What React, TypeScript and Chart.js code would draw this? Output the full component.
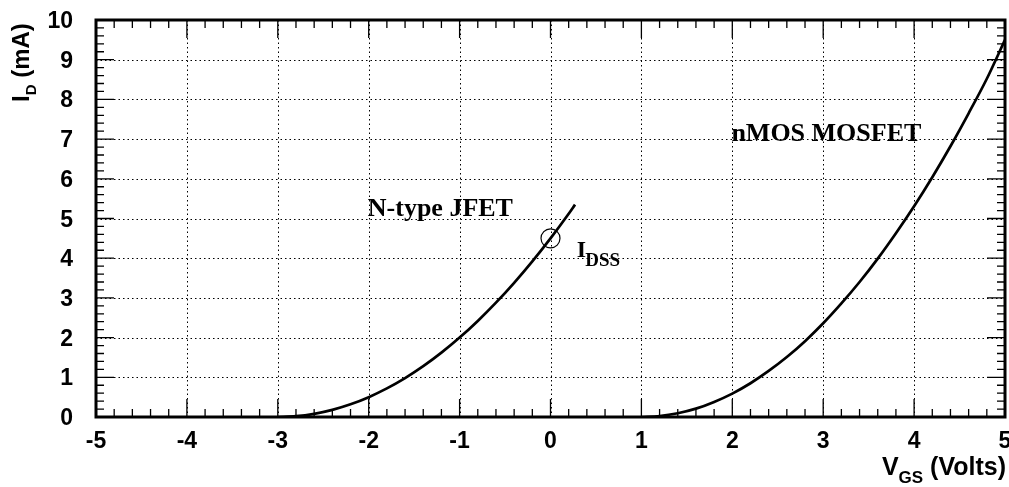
import React, { useEffect, useRef } from "react";
import { Chart, registerables } from "chart.js";

Chart.register(...registerables);

const jfetVgs = [-3, -2.8, -2.6, -2.4, -2.2, -2.0, -1.8, -1.6, -1.4, -1.2, -1.0, -0.8, -0.6, -0.4, -0.2, 0, 0.2, 0.27];
const jfetId = [0, 0.02, 0.08, 0.18, 0.32, 0.5, 0.72, 0.98, 1.28, 1.62, 2.0, 2.42, 2.88, 3.38, 3.92, 4.5, 5.12, 5.35];
const mosVgs = [1.0, 1.2, 1.4, 1.6, 1.8, 2.0, 2.2, 2.4, 2.6, 2.8, 3.0, 3.2, 3.4, 3.6, 3.8, 4.0, 4.2, 4.4, 4.6, 4.8, 5.0];
const mosId = [0, 0.024, 0.094, 0.21, 0.38, 0.59, 0.85, 1.16, 1.51, 1.91, 2.36, 2.86, 3.4, 3.99, 4.63, 5.31, 6.04, 6.82, 7.65, 8.52, 9.5];
const idssPoint = { x: 0, y: 4.5 };

const xTicks = [-5, -4, -3, -2, -1, 0, 1, 2, 3, 4, 5];
const yTicks = [0, 1, 2, 3, 4, 5, 6, 7, 8, 9, 10];

const SANS = "'Liberation Sans', Arial, Helvetica, sans-serif";
const SERIF = "'Liberation Serif', 'Times New Roman', serif";

const framePlugin = {
  id: "framePlugin",
  beforeDatasetsDraw(chart: any) {
    const { ctx, chartArea: a, scales } = chart;
    const xs = scales.x, ys = scales.y;
    ctx.save();
    ctx.strokeStyle = "#000";
    ctx.lineWidth = 1;
    ctx.setLineDash([1.5, 3]);
    for (const v of xTicks.slice(1, -1)) {
      const px = Math.round(xs.getPixelForValue(v)) + 0.5;
      ctx.beginPath();
      ctx.moveTo(px, a.top);
      ctx.lineTo(px, a.bottom);
      ctx.stroke();
    }
    for (const v of yTicks.slice(1, -1)) {
      const py = Math.round(ys.getPixelForValue(v)) + 0.5;
      ctx.beginPath();
      ctx.moveTo(a.left, py);
      ctx.lineTo(a.right, py);
      ctx.stroke();
    }
    ctx.restore();
  },
  afterDraw(chart: any) {
    const { ctx, chartArea: a, scales } = chart;
    const xs = scales.x, ys = scales.y;
    ctx.save();
    ctx.strokeStyle = "#000";
    ctx.setLineDash([]);
    ctx.lineWidth = 1.3;
    for (let i = 0; i <= 50; i++) {
      const v = -5 + i * 0.2;
      const len = i % 5 === 0 ? 18 : 8;
      const px = xs.getPixelForValue(v);
      ctx.beginPath();
      ctx.moveTo(px, a.bottom);
      ctx.lineTo(px, a.bottom - len);
      ctx.moveTo(px, a.top);
      ctx.lineTo(px, a.top + len);
      ctx.stroke();
    }
    for (let i = 0; i <= 50; i++) {
      const v = i * 0.2;
      const len = i % 5 === 0 ? 18 : 8;
      const py = ys.getPixelForValue(v);
      ctx.beginPath();
      ctx.moveTo(a.left, py);
      ctx.lineTo(a.left + len, py);
      ctx.moveTo(a.right, py);
      ctx.lineTo(a.right - len, py);
      ctx.stroke();
    }
    ctx.lineWidth = 3;
    ctx.strokeRect(a.left, a.top, a.right - a.left, a.bottom - a.top);

    ctx.fillStyle = "#000";
    ctx.font = `bold 23px ${SANS}`;
    ctx.textAlign = "center";
    ctx.textBaseline = "alphabetic";
    for (const v of xTicks) {
      ctx.fillText(String(v), xs.getPixelForValue(v), a.bottom + 31);
    }
    ctx.textAlign = "right";
    for (const v of yTicks) {
      ctx.fillText(String(v), a.left - 23, ys.getPixelForValue(v) + 8);
    }

    ctx.textAlign = "left";
    ctx.font = `bold 26px ${SERIF}`;
    ctx.fillText("N-type JFET", xs.getPixelForValue(-2.01), ys.getPixelForValue(5.06));
    ctx.fillText("nMOS MOSFET", xs.getPixelForValue(1.99), ys.getPixelForValue(6.96));
    const ix = xs.getPixelForValue(0.29), iy = ys.getPixelForValue(4.03);
    ctx.font = `bold 24px ${SERIF}`;
    ctx.fillText("I", ix, iy);
    const iw = ctx.measureText("I").width;
    ctx.font = `bold 19px ${SERIF}`;
    ctx.fillText("DSS", ix + iw - 1, iy + 9);

    ctx.font = `bold 25px ${SANS}`;
    const p1 = "V", p3 = " (Volts)";
    const w1 = ctx.measureText(p1).width;
    const w3 = ctx.measureText(p3).width;
    ctx.font = `bold 17px ${SANS}`;
    const w2 = ctx.measureText("GS").width;
    let tx = 1006 - (w1 + w2 + w3);
    const ty = 475;
    ctx.font = `bold 25px ${SANS}`;
    ctx.fillText(p1, tx, ty);
    tx += w1;
    ctx.font = `bold 17px ${SANS}`;
    ctx.fillText("GS", tx, ty + 8);
    tx += w2;
    ctx.font = `bold 25px ${SANS}`;
    ctx.fillText(p3, tx, ty);

    ctx.save();
    ctx.translate(29, 102);
    ctx.rotate(-Math.PI / 2);
    let rx = 0;
    ctx.font = `bold 24px ${SANS}`;
    ctx.fillText("I", rx, 0);
    rx += ctx.measureText("I").width;
    ctx.font = `bold 15px ${SANS}`;
    ctx.fillText("D", rx, 7);
    rx += ctx.measureText("D").width;
    ctx.font = `bold 24px ${SANS}`;
    ctx.fillText(" (mA)", rx, 0);
    ctx.restore();

    ctx.restore();
  },
};

export default function App() {
  const ref = useRef<HTMLCanvasElement | null>(null);
  useEffect(() => {
    document.body.style.margin = "0";
    const canvas = ref.current!;
    const chart = new Chart(canvas, {
      type: "line",
      data: {
        datasets: [
          {
            label: "N-type JFET",
            data: jfetVgs.map((x, i) => ({ x, y: jfetId[i] })),
            borderColor: "#000",
            borderWidth: 2.7,
            pointRadius: 0,
            cubicInterpolationMode: "monotone",
          },
          {
            label: "nMOS MOSFET",
            data: mosVgs.map((x, i) => ({ x, y: mosId[i] })),
            borderColor: "#000",
            borderWidth: 2.7,
            pointRadius: 0,
            cubicInterpolationMode: "monotone",
          },
          {
            label: "IDSS",
            data: [idssPoint],
            showLine: false,
            pointRadius: 9.5,
            pointBorderWidth: 1.2,
            pointBorderColor: "#000",
            pointBackgroundColor: "rgba(0,0,0,0)",
          },
        ],
      },
      options: {
        animation: false,
        responsive: false,
        devicePixelRatio: 1,
        layout: { autoPadding: false, padding: { top: 20, right: 4, left: 0, bottom: 0 } },
        plugins: { legend: { display: false }, tooltip: { enabled: false } },
        scales: {
          x: {
            type: "linear",
            min: -5,
            max: 5,
            afterFit: (s: any) => { s.height = 70; s.paddingLeft = 0; s.paddingRight = 0; },
            grid: { display: false, drawTicks: false },
            border: { display: false },
            ticks: { display: false },
          },
          y: {
            type: "linear",
            min: 0,
            max: 10,
            afterFit: (s: any) => { s.width = 96; s.paddingTop = 0; s.paddingBottom = 0; },
            grid: { display: false, drawTicks: false },
            border: { display: false },
            ticks: { display: false },
          },
        },
      },
      plugins: [framePlugin],
    } as any);
    return () => chart.destroy();
  }, []);
  return <canvas ref={ref} width={1009} height={487} style={{ display: "block" }} />;
}
